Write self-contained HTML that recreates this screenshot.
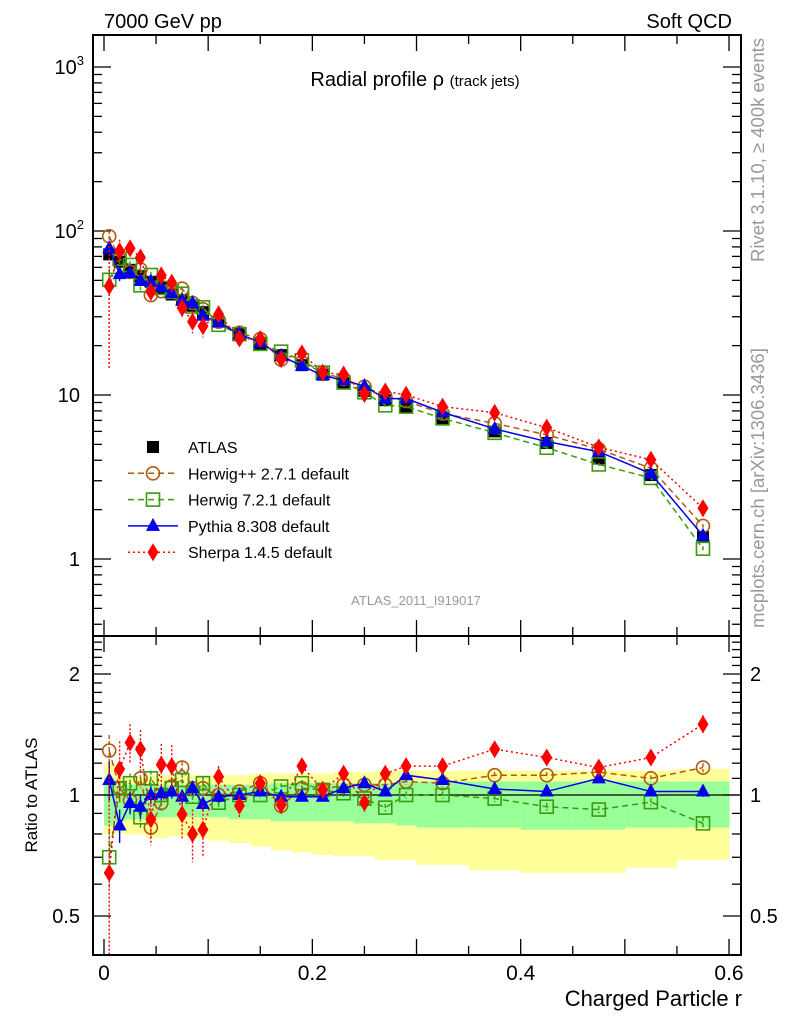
<!DOCTYPE html>
<html><head><meta charset="utf-8"><style>
html,body{margin:0;padding:0;background:#fff;}
svg{display:block;font-family:"Liberation Sans",sans-serif;}
</style></head><body>
<svg id="chart" width="786" height="1024" viewBox="0 0 786 1024" xmlns="http://www.w3.org/2000/svg">
<text x="104" y="28" font-size="20">7000 GeV pp</text>
<text x="732" y="28" font-size="20" text-anchor="end">Soft QCD</text>
<text x="415" y="86" font-size="20" text-anchor="middle">Radial profile ρ <tspan font-size="15">(track jets)</tspan></text>
<text x="416" y="605" font-size="13" fill="#999" text-anchor="middle">ATLAS_2011_I919017</text>
<text transform="translate(764,150) rotate(-90)" font-size="18.5" fill="#999" text-anchor="middle">Rivet 3.1.10, ≥ 400k events</text>
<text transform="translate(764,488) rotate(-90)" font-size="18.5" fill="#999" text-anchor="middle">mcplots.cern.ch [arXiv:1306.3436]</text>
<text transform="translate(37,795) rotate(-90)" font-size="17" text-anchor="middle">Ratio to ATLAS</text>
<text x="742" y="1006" font-size="22" text-anchor="end">Charged Particle r</text>
<g id="bands"></g><g id="ticks"></g><g id="series"></g><g id="legend"></g>
<rect x="93" y="35" width="648" height="601" fill="none" stroke="#000" stroke-width="2"/>
<rect x="93" y="636" width="648" height="319" fill="none" stroke="#000" stroke-width="2"/>
</svg>
<script>
const binCenters=[0.005,0.015,0.025,0.035,0.045,0.055,0.065,0.075,0.085,0.095,0.11,0.13,0.15,0.17,0.19,0.21,0.23,0.25,0.27,0.29,0.325,0.375,0.425,0.475,0.525,0.575];
const binWidths=[0.01,0.01,0.01,0.01,0.01,0.01,0.01,0.01,0.01,0.01,0.02,0.02,0.02,0.02,0.02,0.02,0.02,0.02,0.02,0.02,0.05,0.05,0.05,0.05,0.05,0.05];
const atlas=[72,65,58,53,49,45,41,38,35,32,28,23.5,20.5,17.5,15.2,13.3,11.8,10.6,9.3,8.5,7.2,6.0,5.1,4.1,3.25,1.36];
const herwigppRatio=[1.29,1.04,0.97,1.10,0.83,0.955,1.05,1.17,1.04,1.04,1.0,1.02,1.07,0.94,1.04,1.03,1.06,1.06,1.06,1.08,1.07,1.12,1.12,1.14,1.10,1.17];
const herwig7Ratio=[0.70,1.04,1.07,0.88,1.10,1.0,1.04,1.09,0.99,1.07,0.957,1.0,1.0,1.05,1.07,1.03,1.01,0.98,0.93,1.0,1.0,0.98,0.935,0.92,0.96,0.85];
const pythiaRatio=[1.09,0.84,0.955,0.935,1.0,1.01,1.02,0.99,1.04,0.95,0.99,1.0,1.02,0.99,0.99,0.99,1.04,1.07,1.02,1.12,1.09,1.035,1.02,1.10,1.02,1.02];
const sherpaRatio=[0.64,1.16,1.35,1.30,0.87,1.19,1.18,0.895,0.80,0.82,1.11,0.94,1.07,0.945,1.18,1.03,1.13,0.957,1.13,1.18,1.18,1.30,1.24,1.17,1.24,1.50];
const sherpaErr=[0.55,0.2,0.15,0.15,0.12,0.15,0.15,0.12,0.12,0.12,0.07,0.06,0.05,0.05,0.05,0.05,0.05,0.05,0.05,0.05,0.04,0.05,0.05,0.04,0.05,0.08];
const mcErr=[0.12,0.08,0.06,0.06,0.05,0.04,0.04,0.04,0.04,0.04,0.03,0.02,0.02,0.02,0.02,0.02,0.02,0.02,0.02,0.02,0.02,0.02,0.02,0.02,0.02,0.03];
const yellowLo=[0.80,0.80,0.80,0.80,0.78,0.78,0.79,0.79,0.78,0.78,0.77,0.76,0.745,0.73,0.72,0.71,0.705,0.705,0.69,0.69,0.67,0.65,0.64,0.64,0.66,0.69];
const yellowHi=[1.2,1.11,1.11,1.11,1.12,1.12,1.12,1.12,1.12,1.12,1.12,1.12,1.13,1.13,1.13,1.13,1.14,1.14,1.15,1.15,1.15,1.15,1.15,1.15,1.15,1.16];
const greenLo=[0.84,0.86,0.87,0.87,0.88,0.88,0.88,0.88,0.88,0.88,0.88,0.87,0.87,0.86,0.86,0.86,0.86,0.85,0.85,0.84,0.83,0.83,0.82,0.82,0.83,0.83];
const greenHi=[1.10,1.06,1.06,1.06,1.06,1.06,1.06,1.06,1.06,1.06,1.06,1.06,1.06,1.07,1.07,1.07,1.07,1.07,1.07,1.08,1.08,1.08,1.08,1.08,1.08,1.08];
const xTickLabels=["0","0.2","0.4","0.6"];
const mainTickLabels=["1","10","10²","10³"];
const ratioTickLabels=["0.5","1","2"];

const NS="http://www.w3.org/2000/svg";
const X0=93,X1=741,MT=35,MB=636,RB=955;
const xs=v=>104+v*1041.7;
const ym=v=>559-164*Math.log10(v);
const yr=v=>795-402*Math.log10(v);
function mk(tag,attrs,parent){const e=document.createElementNS(NS,tag);for(const k in attrs)e.setAttribute(k,attrs[k]);parent.appendChild(e);return e;}
const gB=document.getElementById('bands'),gT=document.getElementById('ticks'),gS=document.getElementById('series'),gL=document.getElementById('legend');
const clamp=(y,a,b)=>Math.max(a,Math.min(b,y));

binCenters.forEach((c,i)=>{
  const xa=xs(c-binWidths[i]/2),xb=xs(c+binWidths[i]/2);
  const y1=mk('rect',{x:xa,y:yr(yellowHi[i]),width:xb-xa+0.5,height:yr(yellowLo[i])-yr(yellowHi[i]),fill:'#ffff99'},gB);
  
  
  const g1=mk('rect',{x:xa,y:yr(greenHi[i]),width:xb-xa+0.5,height:yr(greenLo[i])-yr(greenHi[i]),fill:'#99ff99'},gB);
  
  
});
const one=mk('line',{x1:X0,x2:X1,y1:yr(1),y2:yr(1),stroke:'#000','stroke-width':1.3},gB);



for(let k=0;k<=12;k++){const v=k*0.05,x=xs(v);if(x>X1)break;const major=(k%2===0);const L=major?16:9;
  [[MT,1],[MB,-1],[MB,1],[RB,-1]].forEach(([y,d])=>mk('line',{x1:x,x2:x,y1:y,y2:y+d*L,stroke:'#000','stroke-width':1.3},gT));
}
xTickLabels.forEach((t,i)=>{const e=mk('text',{x:xs(i*0.2),y:980,'font-size':21,'text-anchor':'middle'},gT);e.textContent=t;
  
  });
for(let d=-1;d<=3;d++){for(let m=1;m<=9;m++){const v=m*Math.pow(10,d),y=ym(v);if(y<MT||y>MB)continue;const L=m===1?18:9;
  mk('line',{x1:X0,x2:X0+L,y1:y,y2:y,stroke:'#000','stroke-width':1.3},gT);mk('line',{x1:X1,x2:X1-L,y1:y,y2:y,stroke:'#000','stroke-width':1.3},gT);}}
mainTickLabels.forEach((t,i)=>{const e=mk('text',{x:i<2?80:84,y:ym(Math.pow(10,i))+7,'font-size':20,'text-anchor':'end'},gT);
  if(i<2){e.textContent=t;}else{e.textContent='10';const s=mk('tspan',{dy:-9,'font-size':13},e);s.textContent=String(i);}
  
  });
[0.4,0.5,0.6,0.7,0.8,0.9,1,1.1,1.2,1.3,1.4,1.5,1.6,1.7,1.8,1.9,2,2.1,2.2,2.3,2.4,2.5].forEach(v=>{const y=yr(v);if(y<MT+601||y>RB)return;const L=(v===0.5||v===1||v===2)?18:9;
  mk('line',{x1:X0,x2:X0+L,y1:y,y2:y,stroke:'#000','stroke-width':1.3},gT);mk('line',{x1:X1,x2:X1-L,y1:y,y2:y,stroke:'#000','stroke-width':1.3},gT);});
ratioTickLabels.forEach((t,i)=>{const v=[0.5,1,2][i];
  const a=mk('text',{x:80,y:yr(v)+7,'font-size':20,'text-anchor':'end'},gT);a.textContent=t;
  
  
  const b=mk('text',{x:750,y:yr(v)+7,'font-size':20},gT);b.textContent=t;
  
  });

function marker(type,x,y,col,parent){
  let e;
  if(type==='sq')e=mk('rect',{x:x-6,y:y-6,width:12,height:12,fill:'#000'},parent);
  else if(type==='circ')e=mk('circle',{cx:x,cy:y,r:6.5,fill:'none',stroke:col,'stroke-width':1.6},parent);
  else if(type==='osq')e=mk('rect',{x:x-6.5,y:y-6.5,width:13,height:13,fill:'none',stroke:col,'stroke-width':1.6},parent);
  else if(type==='tri')e=mk('polygon',{points:`${x},${y-8} ${x-7},${y+5} ${x+7},${y+5}`,fill:col},parent);
  else e=mk('polygon',{points:`${x},${y-9} ${x-5.5},${y} ${x},${y+9} ${x+5.5},${y}`,fill:col},parent);
  return e;
}
const series=[
 {name:'herwigpp',r:herwigppRatio,err:mcErr,col:'#b05a10',m:'circ',dash:'6,4',label:'Herwig++ 2.7.1 default'},
 {name:'herwig7',r:herwig7Ratio,err:mcErr,col:'#3a9a10',m:'osq',dash:'6,4',label:'Herwig 7.2.1 default'},
 {name:'pythia',r:pythiaRatio,err:mcErr,col:'#0000ee',m:'tri',dash:'',label:'Pythia 8.308 default'},
 {name:'sherpa',r:sherpaRatio,err:sherpaErr,col:'#ff0000',m:'dia',dash:'2,3',label:'Sherpa 1.4.5 default'}];

series.forEach(s=>{
  const g=mk('g',{},gS);
  
  
  const ptsM=binCenters.map((c,i)=>`${xs(c)},${ym(s.r[i]*atlas[i])}`).join(' ');
  const ptsR=binCenters.map((c,i)=>`${xs(c)},${clamp(yr(s.r[i]),636,955)}`).join(' ');
  const a={fill:'none',stroke:s.col,'stroke-width':1.5};if(s.dash)a['stroke-dasharray']=s.dash;
  mk('polyline',Object.assign({points:ptsM},a),g);mk('polyline',Object.assign({points:ptsR},a),g);
  binCenters.forEach((c,i)=>{const x=xs(c);const r=s.r[i],e=s.err[i];
    const eb={stroke:s.col,'stroke-width':1.4};if(s.dash)eb['stroke-dasharray']=s.name==='sherpa'?'2,2':'4,2';
    mk('line',Object.assign({x1:x,x2:x,y1:clamp(yr(r+e),636,955),y2:clamp(yr(Math.max(r-e,0.3)),636,955)},eb),g);
    mk('line',Object.assign({x1:x,x2:x,y1:ym(atlas[i]*(r+e)),y2:ym(atlas[i]*Math.max(r-e,0.2))},eb),g);
    const p=marker(s.m,x,ym(r*atlas[i]),s.col,g);
    
    
    const yy=yr(r);if(yy>=636&&yy<=955){const q=marker(s.m,x,yy,s.col,g);
      
      }
  });
});
const ga=mk('g',{},gS);


gS.insertBefore(ga,gS.firstChild);
binCenters.forEach((c,i)=>{const p=marker('sq',xs(c),ym(atlas[i]),'#000',ga);
  
  });

const items=[{m:'sq',col:'#000',label:'ATLAS',dash:null}].concat(series);
items.forEach((s,i)=>{const y=447+i*26.3;const g=mk('g',{},gL);
  
  
  if(s.dash!==null){const a={x1:128,x2:178,y1:y,y2:y,stroke:s.col,'stroke-width':1.5};if(s.dash)a['stroke-dasharray']=s.dash;mk('line',a,g);}
  marker(s.m,153,y,s.col,g);
  const t=mk('text',{x:188,y:y+6,'font-size':16},g);t.textContent=s.label;});
</script>
</body></html>
